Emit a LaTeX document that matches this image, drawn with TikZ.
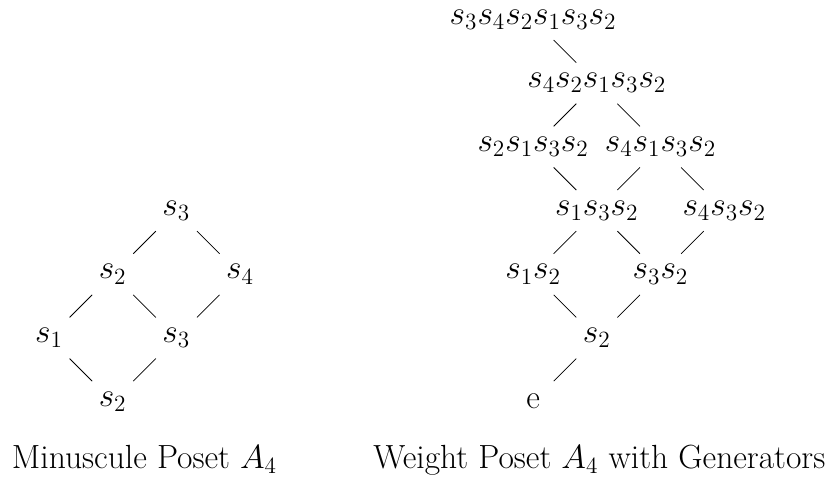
\documentclass[tikz,border=0pt]{standalone}
\usepackage{amsmath,amssymb}
\usepackage{tikz}

\begin{document}
\begin{tikzpicture}[
    x=1.155cm, y=1.155cm,
    elem/.style={font=\LARGE, inner sep=1pt},
    cover/.style={shorten <=15pt, shorten >=15pt},
    caption/.style={font=\LARGE, anchor=base, inner sep=0pt}
]
    \useasboundingbox (-0.769,-1.198) rectangle (12.245,6.306);

    % minuscule poset
    \node[elem] (m2b) at (1,0) {$s_2$};
    \node[elem] (m1) at (0,1) {$s_1$};
    \node[elem] (m3b) at (2,1) {$s_3$};
    \node[elem] (m2t) at (1,2) {$s_2$};
    \node[elem] (m4) at (3,2) {$s_4$};
    \node[elem] (m3t) at (2,3) {$s_3$};

    \draw[cover] (m3t.center) -- (m2t.center);
    \draw[cover] (m3t.center) -- (m4.center);
    \draw[cover] (m2t.center) -- (m1.center);
    \draw[cover] (m2t.center) -- (m3b.center);
    \draw[cover] (m4.center) -- (m3b.center);
    \draw[cover] (m1.center) -- (m2b.center);
    \draw[cover] (m3b.center) -- (m2b.center);

    % weight poset
    \node[elem] (w0) at (7.6,0) {e};
    \node[elem] (w1) at (8.6,1) {$s_2$};
    \node[elem] (w2a) at (7.6,2) {$s_1s_2$};
    \node[elem] (w2b) at (9.6,2) {$s_3s_2$};
    \node[elem] (w3a) at (8.6,3) {$s_1s_3s_2$};
    \node[elem] (w3b) at (10.6,3) {$s_4s_3s_2$};
    \node[elem] (w4a) at (7.6,4) {$s_2s_1s_3s_2$};
    \node[elem] (w4b) at (9.6,4) {$s_4s_1s_3s_2$};
    \node[elem] (w5) at (8.6,5) {$s_4s_2s_1s_3s_2$};
    \node[elem] (w6) at (7.6,6) {$s_3s_4s_2s_1s_3s_2$};

    \draw[cover] (w6.center) -- (w5.center);
    \draw[cover] (w5.center) -- (w4a.center);
    \draw[cover] (w5.center) -- (w4b.center);
    \draw[cover] (w4a.center) -- (w3a.center);
    \draw[cover] (w4b.center) -- (w3a.center);
    \draw[cover] (w4b.center) -- (w3b.center);
    \draw[cover] (w3a.center) -- (w2a.center);
    \draw[cover] (w3a.center) -- (w2b.center);
    \draw[cover] (w3b.center) -- (w2b.center);
    \draw[cover] (w2a.center) -- (w1.center);
    \draw[cover] (w2b.center) -- (w1.center);
    \draw[cover] (w1.center) -- (w0.center);

    % captions
    \node[caption] (capm) at (1.5,-1.05) {Minuscule Poset $A_4$};
    \node[caption] (capw) at (8.64,-1.05) {Weight Poset $A_4$ with Generators};
\end{tikzpicture}
\end{document}
